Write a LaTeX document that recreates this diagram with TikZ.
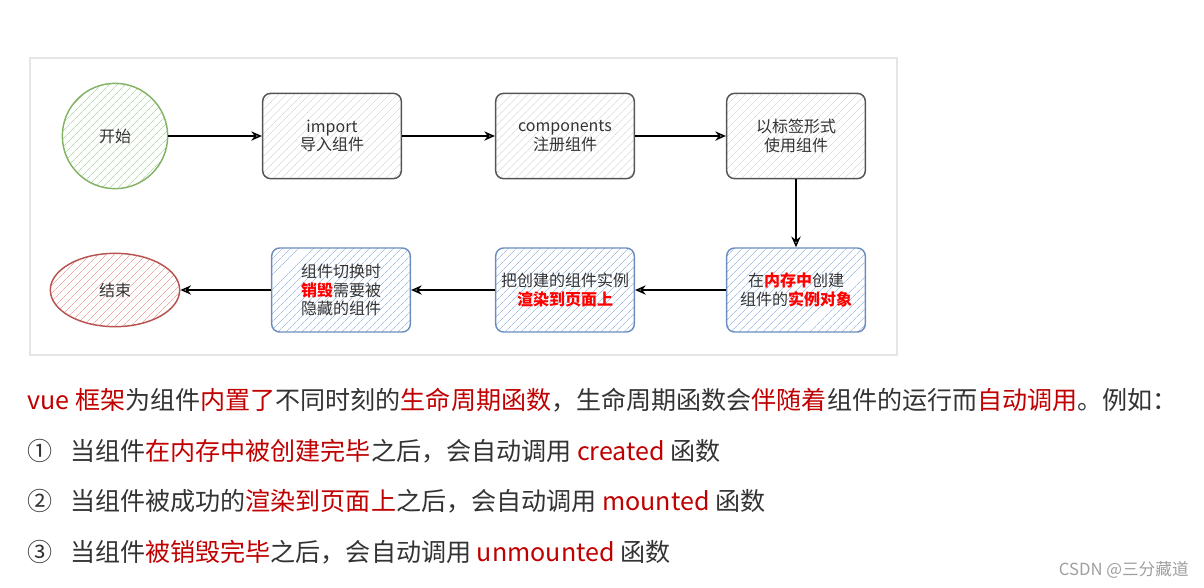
\documentclass[tikz,border=0pt]{standalone}
\usepackage{fontspec}
\setmainfont{Noto Sans CJK SC}
\usepackage{xcolor}
\usetikzlibrary{arrows.meta,patterns.meta,shapes.geometric}

\definecolor{txtgray}{HTML}{333333}
\definecolor{hlred}{HTML}{C00000}
\definecolor{startline}{HTML}{82B366}
\definecolor{startfill}{HTML}{B9DAB0}
\definecolor{endline}{HTML}{B85450}
\definecolor{endfill}{HTML}{F1A9A6}
\definecolor{boxline}{HTML}{555555}
\definecolor{boxfill}{HTML}{DDDDDD}
\definecolor{blueline}{HTML}{6C8EBF}
\definecolor{bluefill}{HTML}{A9C4EB}

\begin{document}
\begin{tikzpicture}[x=0.75pt,y=-0.75pt,
  every node/.style={font=\fontsize{12}{14}\selectfont,text=txtgray,align=center},
  hatch/.style={pattern={Lines[angle=45,distance=4pt,line width=0.6pt]}},
  startnode/.style={circle,draw=startline,line width=1.1pt,hatch,pattern color=startfill,minimum size=79pt},
  endnode/.style={ellipse,draw=endline,line width=1.1pt,hatch,pattern color=endfill,minimum width=97pt,minimum height=55pt},
  graybox/.style={rectangle,rounded corners=6pt,draw=boxline,line width=1.1pt,hatch,pattern color=boxfill,minimum width=104pt,minimum height=64pt},
  bluebox/.style={graybox,draw=blueline,pattern color=bluefill,minimum height=63pt},
  flow/.style={-{Stealth[open,length=8pt,width=7pt]},line width=1.1pt,black},
  para/.style={anchor=base west,inner sep=0pt,font=\fontsize{18.8}{22}\selectfont,text=txtgray,align=left}]

\useasboundingbox (0,0) rectangle (1204,587);
\draw[gray!20,line width=1pt] (30,58) rectangle (897,355);

\node[startnode] (start) at (115,136) {开始};
\node[graybox] (imp) at (332,136) {import\\导入组件};
\node[graybox] (comp) at (565,136) {components\\注册组件};
\node[graybox] (tag) at (796,136) {以标签形式\\使用组件};

\node[bluebox] (mem) at (796,290) {在\textcolor{red}{\bfseries 内存中}创建\\组件的\textcolor{red}{\bfseries 实例对象}};
\node[bluebox] (render) at (565,290) {把创建的组件实例\\\textcolor{red}{\bfseries 渲染到页面上}};
\node[bluebox] (destroy) at (341,290) {组件切换时\\\textcolor{red}{\bfseries 销毁}需要被\\隐藏的组件};
\node[endnode] (stop) at (115,290) {结束};

\draw[flow] (start) -- (imp);
\draw[flow] (imp) -- (comp);
\draw[flow] (comp) -- (tag);
\draw[flow] (tag) -- (mem);
\draw[flow] (mem) -- (render);
\draw[flow] (render) -- (destroy);
\draw[flow] (destroy) -- (stop);

\node[para] (intro) at (27,409) {\textcolor{hlred}{vue 框架}为组件\textcolor{hlred}{内置了}不同时刻的\textcolor{hlred}{生命周期函数}，生命周期函数会\textcolor{hlred}{伴随着}组件的运行而\textcolor{hlred}{自动调用}。例如：};
\node[para] (n1) at (27,460) {①};
\node[para] (item1) at (70,460) {当组件\textcolor{hlred}{在内存中被创建完毕}之后，会自动调用 \textcolor{hlred}{created} 函数};
\node[para] (n2) at (27,510) {②};
\node[para] (item2) at (70,510) {当组件被成功的\textcolor{hlred}{渲染到页面上}之后，会自动调用 \textcolor{hlred}{mounted} 函数};
\node[para] (n3) at (27,561) {③};
\node[para] (item3) at (70,561) {当组件\textcolor{hlred}{被销毁完毕}之后，会自动调用 \textcolor{hlred}{unmounted} 函数};

\node[anchor=base east,inner sep=0pt,font=\fontsize{12.5}{14}\selectfont,text=gray!75] (mark) at (1189,575) {CSDN @三分藏道};
\end{tikzpicture}
\end{document}
